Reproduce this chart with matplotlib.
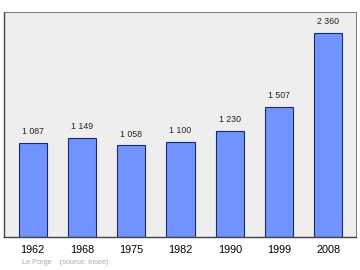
import matplotlib
matplotlib.use('Agg')
import matplotlib.pyplot as plt

years = ['1962', '1968', '1975', '1982', '1990', '1999', '2008']
population = [1087, 1149, 1058, 1100, 1230, 1507, 2360]
value_labels = ['1 087', '1 149', '1 058', '1 100', '1 230', '1 507', '2 360']

plt.rcParams['font.family'] = ['Liberation Sans', 'DejaVu Sans']

fig = plt.figure(figsize=(3.6, 2.7), dpi=100)
ax = fig.add_axes([4 / 360, 1 - 237 / 270, 352 / 360, 225 / 270])
ax.set_facecolor('#eeeeee')

x = range(len(years))
ax.bar(x, population, width=0.57, color='#7093ff', edgecolor='#1a2a6c', linewidth=0.8)
for i, v in enumerate(population):
    ax.text(i, v + 75, value_labels[i], ha='center', va='bottom', fontsize=6.3, color='#222222')

ax.set_xlim(-0.58, 6.56)
ax.set_ylim(0, 2600)
ax.set_yticks([])
ax.set_xticks(list(x))
ax.set_xticklabels(years, fontsize=7.8)
ax.tick_params(axis='x', length=0, pad=6)

for side in ['left', 'bottom']:
    ax.spines[side].set_color('#444444')
    ax.spines[side].set_linewidth(1.0)
for side in ['top', 'right']:
    ax.spines[side].set_color('#777777')
    ax.spines[side].set_linewidth(0.7)

fig.text(22 / 360, 1 - 263 / 270, 'Le Porge    (source: Insee)', fontsize=5.3, color='#aaaaaa', va='center')

fig.savefig('out.png', dpi=100)
